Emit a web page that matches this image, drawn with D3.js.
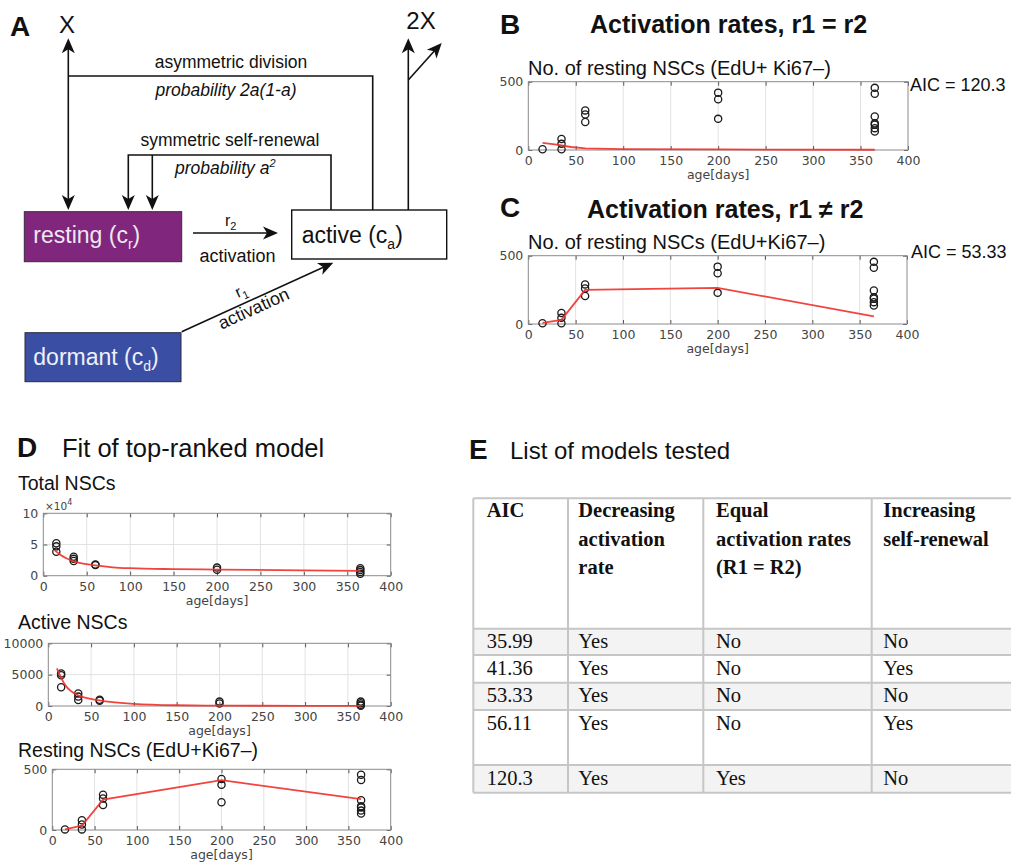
<!DOCTYPE html>
<html><head><meta charset="utf-8">
<script src="https://cdn.jsdelivr.net/npm/d3@7"></script>
<style>body{margin:0;background:#fff} svg{display:block}</style>
</head><body>
<svg id="fig" width="1011" height="862"></svg>
<script>
// ---------- data ----------
const ageTicks = [0, 50, 100, 150, 200, 250, 300, 350, 400];
const restingTicks = [0, 500];
const totalTicks = [0, 50000, 100000];
const activeTicks = [0, 5000, 10000];

// observed resting NSCs (EdU+Ki67-) : [age in days, count]
const restingObs = [[15,5],[35,5],[35,45],[35,80],[60,205],[60,260],[60,290],
  [200,228],[200,372],[200,420],[365,135],[365,160],[365,185],[365,195],[365,245],[365,412],[365,455]];
// model fits of resting NSCs
const fitEqualRates = [[15,52],[30,40],[45,22],[60,12],[100,7],[200,4],[365,2]];
const fitUnequalRates = [[15,8],[35,30],[60,250],[200,265],[365,55]];
const fitTopResting = [[15,5],[35,35],[60,250],[200,410],[365,255]];

// total NSCs
const totalObs = [[15,52000],[15,47000],[15,38500],[35,30500],[35,27000],[35,23500],[60,18000],[60,17000],
  [200,13000],[200,9500],[365,12000],[365,9000],[365,6000],[365,3000]];
const fitTotal = [[13,41000],[20,33000],[35,23000],[50,18500],[60,16500],[80,13500],[100,12000],[150,10500],[200,9800],[300,8500],[365,7800]];

// active NSCs
const activeObs = [[15,5200],[15,4900],[15,3000],[35,2000],[35,1500],[35,950],[60,1000],[60,850],
  [200,700],[200,400],[365,700],[365,450],[365,200],[365,50]];
const fitActive = [[10,6000],[15,4500],[20,3300],[35,1700],[60,900],[100,350],[150,120],[200,60],[300,30],[365,20]];

// model list
const tableHeaders = [["AIC"],["Decreasing","activation","rate"],["Equal","activation rates","(R1 = R2)"],["Increasing","self-renewal"]];
const aicValues = ["35.99","41.36","53.33","56.11","120.3"];
const decreasingRate = ["Yes","Yes","Yes","Yes","Yes"];
const equalRates = ["No","No","No","No","Yes"];
const increasingRenewal = ["No","Yes","No","Yes","No"];

// ---------- setup ----------
const svg = d3.select("#fig");
svg.append("rect").attr("width",1011).attr("height",862).attr("fill","#fff");
const SANS = "'Liberation Sans', Arial, Helvetica, sans-serif";
const TICKF = "'DejaVu Sans', sans-serif";
const SERIF = "'Liberation Serif', 'Times New Roman', serif";
const INK = "#111";
const FIT = "#f0302a";

function txt(g, x, y, s, size, opts = {}) {
  return g.append("text").attr("x", x).attr("y", y).text(s)
    .attr("font-family", opts.family || SANS).attr("font-size", size)
    .attr("font-weight", opts.weight || "normal").attr("font-style", opts.style || "normal")
    .attr("fill", opts.fill || INK).attr("text-anchor", opts.anchor || "start");
}

// ---------- panel A : model scheme ----------
const A = svg.append("g");
function arrowHead(tx, ty, angleDeg) {
  A.append("path").attr("d", "M0,0 L-15,-6.5 L-11,0 L-15,6.5 Z")
    .attr("transform", `translate(${tx},${ty}) rotate(${angleDeg})`).attr("fill", INK);
}
function seg(pts) {
  A.append("path").attr("d", d3.line()(pts)).attr("fill", "none").attr("stroke", INK).attr("stroke-width", 1.6);
}
txt(A, 10, 36, "A", 28, {weight: "bold"});
txt(A, 67, 33, "X", 24, {anchor: "middle"});
txt(A, 421, 29, "2X", 24, {anchor: "middle"});

// asymmetric division bracket
seg([[68.3, 44], [68.3, 204]]);
arrowHead(68.3, 38.3, -90);
arrowHead(68.3, 210, 90);
seg([[68.3, 76], [372.7, 76], [372.7, 210]]);
txt(A, 231, 68, "asymmetric division", 17.5, {anchor: "middle"});
txt(A, 226, 96, "probability 2a(1-a)", 17.5, {anchor: "middle", style: "italic"});

// symmetric self-renewal bracket
seg([[128.3, 204], [128.3, 155], [331, 155], [331, 210]]);
seg([[152.3, 155], [152.3, 204]]);
arrowHead(128.3, 210, 90);
arrowHead(152.3, 210, 90);
txt(A, 230, 145.5, "symmetric self-renewal", 17.5, {anchor: "middle"});
const pa = txt(A, 175, 173.5, "probability a", 17.5, {style: "italic"});
pa.append("tspan").attr("dy", -7).attr("font-size", 11).text("2");

// 2X outflow
seg([[408.3, 210], [408.3, 44]]);
arrowHead(408.3, 38.3, -90);
seg([[408.3, 80], [437, 48]]);
arrowHead(441.7, 43, -48);

// compartments
A.append("rect").attr("x", 24.3).attr("y", 211.7).attr("width", 157.4).attr("height", 50)
  .attr("fill", "#80277d").attr("stroke", "#3a2a3a").attr("stroke-width", 1);
A.append("rect").attr("x", 291.7).attr("y", 210).attr("width", 155).attr("height", 49)
  .attr("fill", "#fff").attr("stroke", INK).attr("stroke-width", 1.4);
A.append("rect").attr("x", 25).attr("y", 332.7).attr("width", 156).attr("height", 49)
  .attr("fill", "#3a4fa3").attr("stroke", "#2a2a3a").attr("stroke-width", 1);

function compLabel(x, y, main, sub, fill) {
  const t = txt(A, x, y, main, 23, {fill});
  t.append("tspan").attr("dy", 6).attr("font-size", 14).text(sub);
  t.append("tspan").attr("dy", -6).text(")");
}
compLabel(33.3, 243.3, "resting (c", "r", "#efe8f2");
compLabel(301.7, 243, "active (c", "a", INK);
compLabel(33.3, 365, "dormant (c", "d", "#eef0f8");

// r2 activation
seg([[193, 233], [272, 233]]);
arrowHead(278, 233, 0);
const r2 = txt(A, 225, 226, "r", 16);
r2.append("tspan").attr("dy", 4).attr("font-size", 11).text("2");
txt(A, 237.5, 262, "activation", 18, {anchor: "middle"});

// r1 activation
const ang = Math.atan2(262.7 - 331.7, 333.3 - 181.7) * 180 / Math.PI;
seg([[181.7, 331.7], [327.8, 265.2]]);
arrowHead(333.3, 262.7, ang);
const r1g = A.append("g").attr("transform", `translate(238,298) rotate(${ang})`);
const r1 = r1g.append("text").attr("font-family", SANS).attr("font-size", 16).attr("fill", INK).text("r");
r1.append("tspan").attr("dy", 4).attr("font-size", 11).text("1");
const actg = A.append("g").attr("transform", `translate(256,314) rotate(${ang})`);
actg.append("text").attr("font-family", SANS).attr("font-size", 18).attr("fill", INK)
  .attr("text-anchor", "middle").text("activation");

// ---------- axes helper ----------
function plotPanel(c) {
  const x = d3.scaleLinear().domain([0, 400]).range([c.left, c.right]);
  const y = d3.scaleLinear().domain([0, c.ymax]).range([c.bottom, c.top]);
  const g = svg.append("g");
  g.selectAll(".gx").data(ageTicks.slice(1, -1)).join("line")
    .attr("x1", d => x(d)).attr("x2", d => x(d)).attr("y1", c.top).attr("y2", c.bottom)
    .attr("stroke", "#e2e2e2").attr("stroke-width", 1);
  g.selectAll(".gy").data(c.yticks.slice(1, -1)).join("line")
    .attr("x1", c.left).attr("x2", c.right).attr("y1", d => y(d)).attr("y2", d => y(d))
    .attr("stroke", "#e2e2e2").attr("stroke-width", 1);
  const styleAxis = a => {
    a.select(".domain").remove();
    a.selectAll(".tick line").attr("stroke", "#555");
    a.selectAll(".tick text").attr("font-family", TICKF).attr("font-size", 12.5).attr("fill", "#444");
  };
  g.append("g").attr("transform", `translate(0,${c.bottom})`)
    .call(d3.axisBottom(x).tickValues(ageTicks).tickSize(-4).tickPadding(6)).call(styleAxis);
  g.append("g").attr("transform", `translate(0,${c.top})`)
    .call(d3.axisTop(x).tickValues(ageTicks).tickSize(-4).tickFormat("")).call(styleAxis);
  g.append("g").attr("transform", `translate(${c.left},0)`)
    .call(d3.axisLeft(y).tickValues(c.yticks).tickSize(-4).tickPadding(5).tickFormat(c.yfmt || d3.format("d"))).call(styleAxis);
  g.append("g").attr("transform", `translate(${c.right},0)`)
    .call(d3.axisRight(y).tickValues(c.yticks).tickSize(-4).tickFormat("")).call(styleAxis);
  g.append("rect").attr("x", c.left).attr("y", c.top).attr("width", c.right - c.left).attr("height", c.bottom - c.top)
    .attr("fill", "none").attr("stroke", "#8a8a8a").attr("stroke-width", 1);
  txt(g, (c.left + c.right) / 2, c.bottom + 29, "age[days]", 12.5, {family: TICKF, fill: "#444", anchor: "middle"});
  g.selectAll(".obs").data(c.obs).join("circle")
    .attr("cx", d => x(d[0])).attr("cy", d => y(d[1])).attr("r", 3.6)
    .attr("fill", "none").attr("stroke", "#1a1a1a").attr("stroke-width", 1.3);
  g.append("path").datum(c.fit)
    .attr("d", d3.line().x(d => x(d[0])).y(d => y(d[1])).curve(c.curve || d3.curveLinear))
    .attr("fill", "none").attr("stroke", FIT).attr("stroke-width", 1.8).attr("stroke-opacity", 0.9);
  return g;
}

// ---------- panel B ----------
txt(svg, 500, 34, "B", 28, {weight: "bold"});
txt(svg, 590, 33, "Activation rates, r1 = r2", 25, {weight: "bold"});
txt(svg, 528, 75, "No. of resting NSCs (EdU+ Ki67\u2013)", 20);
txt(svg, 910, 91, "AIC = 120.3", 18);
plotPanel({left: 528.3, right: 908, top: 81.7, bottom: 150, ymax: 500, yticks: restingTicks,
  obs: restingObs, fit: fitEqualRates});

// ---------- panel C ----------
txt(svg, 500, 217, "C", 28, {weight: "bold"});
txt(svg, 587, 218, "Activation rates, r1 \u2260 r2", 25, {weight: "bold"});
txt(svg, 528, 249, "No. of resting NSCs (EdU+Ki67\u2013)", 20);
txt(svg, 911, 258, "AIC = 53.33", 18);
plotPanel({left: 528.3, right: 907, top: 255.7, bottom: 324, ymax: 500, yticks: restingTicks,
  obs: restingObs, fit: fitUnequalRates});

// ---------- panel D ----------
txt(svg, 17, 457, "D", 28, {weight: "bold"});
txt(svg, 62, 457, "Fit of top-ranked model", 25.5);
txt(svg, 18, 490, "Total NSCs", 19.5);
const tg = plotPanel({left: 43.3, right: 390.7, top: 513.3, bottom: 575.7, ymax: 100000, yticks: totalTicks,
  yfmt: d => d / 10000, obs: totalObs, fit: fitTotal, curve: d3.curveMonotoneX});
const ex = txt(tg, 45, 510, "\u00d710", 10.5, {family: TICKF, fill: "#444"});
ex.append("tspan").attr("dy", -5).attr("font-size", 8).text("4");

txt(svg, 18, 628.5, "Active NSCs", 19.5);
plotPanel({left: 48.3, right: 390.7, top: 643.3, bottom: 706, ymax: 10000, yticks: activeTicks,
  obs: activeObs, fit: fitActive, curve: d3.curveMonotoneX});

txt(svg, 18, 757, "Resting NSCs (EdU+Ki67\u2013)", 19.5);
plotPanel({left: 52.3, right: 390.7, top: 769.3, bottom: 830, ymax: 500, yticks: restingTicks,
  obs: restingObs, fit: fitTopResting});

// ---------- panel E : table ----------
txt(svg, 469, 459, "E", 28, {weight: "bold"});
txt(svg, 510, 459, "List of models tested", 24);
const T = svg.append("g");
const colX = [473.3, 568, 703.3, 871.7, 1040];
const rowY = [498.3, 628.7, 655, 682.7, 710, 765, 792.7];
const rows = aicValues.map((a, i) => [a, decreasingRate[i], equalRates[i], increasingRenewal[i]]);
T.selectAll(".bg").data(rows).join("rect")
  .attr("x", colX[0]).attr("y", (d, i) => rowY[i + 1]).attr("width", colX[4] - colX[0])
  .attr("height", (d, i) => rowY[i + 2] - rowY[i + 1])
  .attr("fill", (d, i) => i % 2 === 0 ? "#f3f3f3" : "#fff");
rowY.forEach(yv => T.append("line").attr("x1", colX[0]).attr("x2", colX[4]).attr("y1", yv).attr("y2", yv)
  .attr("stroke", "#c6c6c6").attr("stroke-width", 2));
colX.forEach(xv => T.append("line").attr("x1", xv).attr("x2", xv).attr("y1", rowY[0]).attr("y2", rowY[rowY.length - 1])
  .attr("stroke", "#c6c6c6").attr("stroke-width", 2));
const textX = [486.7, 578.3, 716, 883.3];
tableHeaders.forEach((lines, ci) => {
  lines.forEach((s, li) => txt(T, textX[ci], 517 + li * 28.5, s, 20.5, {family: SERIF, weight: "bold"}));
});
rows.forEach((r, ri) => {
  r.forEach((s, ci) => txt(T, textX[ci], rowY[ri + 1] + 19.5, s, 20.5, {family: SERIF}));
});
</script></body></html>
